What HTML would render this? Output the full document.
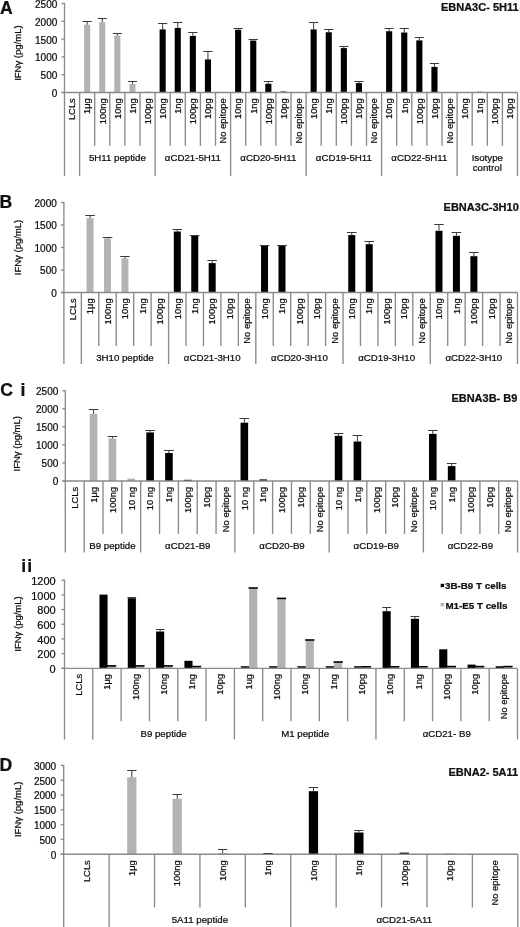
<!DOCTYPE html>
<html><head><meta charset="utf-8"><title>Figure</title>
<style>
html,body{margin:0;padding:0;background:#fff;}
body{width:520px;height:927px;overflow:hidden;}
svg{display:block;will-change:transform;font-family:"Liberation Sans",sans-serif;}
text{fill:#111111;stroke:#000;stroke-width:0.22px;}
</style></head><body>
<svg width="520" height="927" viewBox="0 0 520 927">
<rect width="520" height="927" fill="#fff"/>
<rect x="84.1" y="24.75" width="6.1" height="67.75" fill="#b3b3b3"/>
<path d="M87.15 24.75V21.5" stroke="#3a3a3a" stroke-width="1" fill="none"/>
<path d="M82.55 21.5H91.75" stroke="#3a3a3a" stroke-width="1" fill="none"/>
<rect x="99.2" y="22.1" width="6.1" height="70.4" fill="#b3b3b3"/>
<path d="M102.25 22.1V18.5" stroke="#3a3a3a" stroke-width="1" fill="none"/>
<path d="M97.65 18.5H106.85" stroke="#3a3a3a" stroke-width="1" fill="none"/>
<rect x="114.3" y="35.6" width="6.1" height="56.9" fill="#b3b3b3"/>
<path d="M117.35 35.6V33.5" stroke="#3a3a3a" stroke-width="1" fill="none"/>
<path d="M112.75 33.5H121.95" stroke="#3a3a3a" stroke-width="1" fill="none"/>
<rect x="129.4" y="84" width="6.1" height="8.5" fill="#b3b3b3"/>
<path d="M132.45 84V81.5" stroke="#3a3a3a" stroke-width="1" fill="none"/>
<path d="M127.85 81.5H137.05" stroke="#3a3a3a" stroke-width="1" fill="none"/>
<rect x="144.5" y="91.6" width="6.1" height="0.9" fill="#b3b3b3"/>
<rect x="159.6" y="29.4" width="6.1" height="63.1" fill="#000000"/>
<path d="M162.65 29.4V23.5" stroke="#3a3a3a" stroke-width="1" fill="none"/>
<path d="M158.05 23.5H167.25" stroke="#3a3a3a" stroke-width="1" fill="none"/>
<rect x="174.7" y="27.9" width="6.1" height="64.6" fill="#000000"/>
<path d="M177.75 27.9V22.5" stroke="#3a3a3a" stroke-width="1" fill="none"/>
<path d="M173.15 22.5H182.35" stroke="#3a3a3a" stroke-width="1" fill="none"/>
<rect x="189.8" y="35.9" width="6.1" height="56.6" fill="#000000"/>
<path d="M192.85 35.9V32.5" stroke="#3a3a3a" stroke-width="1" fill="none"/>
<path d="M188.25 32.5H197.45" stroke="#3a3a3a" stroke-width="1" fill="none"/>
<rect x="204.9" y="59.4" width="6.1" height="33.1" fill="#000000"/>
<path d="M207.95 59.4V51.5" stroke="#3a3a3a" stroke-width="1" fill="none"/>
<path d="M203.35 51.5H212.55" stroke="#3a3a3a" stroke-width="1" fill="none"/>
<rect x="235.1" y="29.75" width="6.1" height="62.75" fill="#000000"/>
<path d="M238.15 29.75V28.5" stroke="#3a3a3a" stroke-width="1" fill="none"/>
<path d="M233.55 28.5H242.75" stroke="#3a3a3a" stroke-width="1" fill="none"/>
<rect x="250.2" y="40.6" width="6.1" height="51.9" fill="#000000"/>
<path d="M253.25 40.6V39.5" stroke="#3a3a3a" stroke-width="1" fill="none"/>
<path d="M248.65 39.5H257.85" stroke="#3a3a3a" stroke-width="1" fill="none"/>
<rect x="265.3" y="83.75" width="6.1" height="8.75" fill="#000000"/>
<path d="M268.35 83.75V81.5" stroke="#3a3a3a" stroke-width="1" fill="none"/>
<path d="M263.75 81.5H272.95" stroke="#3a3a3a" stroke-width="1" fill="none"/>
<rect x="280.4" y="91.5" width="6.1" height="1" fill="#000000"/>
<rect x="310.6" y="29.4" width="6.1" height="63.1" fill="#000000"/>
<path d="M313.65 29.4V22.5" stroke="#3a3a3a" stroke-width="1" fill="none"/>
<path d="M309.05 22.5H318.25" stroke="#3a3a3a" stroke-width="1" fill="none"/>
<rect x="325.7" y="32.25" width="6.1" height="60.25" fill="#000000"/>
<path d="M328.75 32.25V29.5" stroke="#3a3a3a" stroke-width="1" fill="none"/>
<path d="M324.15 29.5H333.35" stroke="#3a3a3a" stroke-width="1" fill="none"/>
<rect x="340.8" y="48.1" width="6.1" height="44.4" fill="#000000"/>
<path d="M343.85 48.1V46.5" stroke="#3a3a3a" stroke-width="1" fill="none"/>
<path d="M339.25 46.5H348.45" stroke="#3a3a3a" stroke-width="1" fill="none"/>
<rect x="355.9" y="83.1" width="6.1" height="9.4" fill="#000000"/>
<path d="M358.95 83.1V81.5" stroke="#3a3a3a" stroke-width="1" fill="none"/>
<path d="M354.35 81.5H363.55" stroke="#3a3a3a" stroke-width="1" fill="none"/>
<rect x="386.1" y="31.25" width="6.1" height="61.25" fill="#000000"/>
<path d="M389.15 31.25V28.5" stroke="#3a3a3a" stroke-width="1" fill="none"/>
<path d="M384.55 28.5H393.75" stroke="#3a3a3a" stroke-width="1" fill="none"/>
<rect x="401.2" y="32.5" width="6.1" height="60" fill="#000000"/>
<path d="M404.25 32.5V28.5" stroke="#3a3a3a" stroke-width="1" fill="none"/>
<path d="M399.65 28.5H408.85" stroke="#3a3a3a" stroke-width="1" fill="none"/>
<rect x="416.3" y="40.4" width="6.1" height="52.1" fill="#000000"/>
<path d="M419.35 40.4V37.5" stroke="#3a3a3a" stroke-width="1" fill="none"/>
<path d="M414.75 37.5H423.95" stroke="#3a3a3a" stroke-width="1" fill="none"/>
<rect x="431.4" y="66.9" width="6.1" height="25.6" fill="#000000"/>
<path d="M434.45 66.9V63.5" stroke="#3a3a3a" stroke-width="1" fill="none"/>
<path d="M429.85 63.5H439.05" stroke="#3a3a3a" stroke-width="1" fill="none"/>
<rect x="476.7" y="91.8" width="6.1" height="0.7" fill="#000000"/>
<path d="M64.5 3V176" stroke="#8a8a8a" stroke-width="1.35"/>
<path d="M61.5 92.5H64.5" stroke="#8a8a8a" stroke-width="1.35"/>
<text x="57.3" y="96.98" text-anchor="end" font-size="10.0">0</text>
<path d="M61.5 74.7H64.5" stroke="#8a8a8a" stroke-width="1.35"/>
<text x="57.3" y="79.18" text-anchor="end" font-size="10.0">500</text>
<path d="M61.5 56.9H64.5" stroke="#8a8a8a" stroke-width="1.35"/>
<text x="57.3" y="61.38" text-anchor="end" font-size="10.0">1000</text>
<path d="M61.5 39.1H64.5" stroke="#8a8a8a" stroke-width="1.35"/>
<text x="57.3" y="43.58" text-anchor="end" font-size="10.0">1500</text>
<path d="M61.5 21.3H64.5" stroke="#8a8a8a" stroke-width="1.35"/>
<text x="57.3" y="25.78" text-anchor="end" font-size="10.0">2000</text>
<path d="M61.5 3.5H64.5" stroke="#8a8a8a" stroke-width="1.35"/>
<text x="57.3" y="7.98" text-anchor="end" font-size="10.0">2500</text>
<path d="M61.5 92.5H517.5" stroke="#8a8a8a" stroke-width="1.35"/>
<path d="M79.6 92.5V176" stroke="#8a8a8a" stroke-width="1.35"/>
<path d="M94.7 92.5V145.8" stroke="#8a8a8a" stroke-width="1.35"/>
<path d="M109.8 92.5V145.8" stroke="#8a8a8a" stroke-width="1.35"/>
<path d="M124.9 92.5V145.8" stroke="#8a8a8a" stroke-width="1.35"/>
<path d="M140 92.5V145.8" stroke="#8a8a8a" stroke-width="1.35"/>
<path d="M155.1 92.5V176" stroke="#8a8a8a" stroke-width="1.35"/>
<path d="M170.2 92.5V145.8" stroke="#8a8a8a" stroke-width="1.35"/>
<path d="M185.3 92.5V145.8" stroke="#8a8a8a" stroke-width="1.35"/>
<path d="M200.4 92.5V145.8" stroke="#8a8a8a" stroke-width="1.35"/>
<path d="M215.5 92.5V145.8" stroke="#8a8a8a" stroke-width="1.35"/>
<path d="M230.6 92.5V176" stroke="#8a8a8a" stroke-width="1.35"/>
<path d="M245.7 92.5V145.8" stroke="#8a8a8a" stroke-width="1.35"/>
<path d="M260.8 92.5V145.8" stroke="#8a8a8a" stroke-width="1.35"/>
<path d="M275.9 92.5V145.8" stroke="#8a8a8a" stroke-width="1.35"/>
<path d="M291 92.5V145.8" stroke="#8a8a8a" stroke-width="1.35"/>
<path d="M306.1 92.5V176" stroke="#8a8a8a" stroke-width="1.35"/>
<path d="M321.2 92.5V145.8" stroke="#8a8a8a" stroke-width="1.35"/>
<path d="M336.3 92.5V145.8" stroke="#8a8a8a" stroke-width="1.35"/>
<path d="M351.4 92.5V145.8" stroke="#8a8a8a" stroke-width="1.35"/>
<path d="M366.5 92.5V145.8" stroke="#8a8a8a" stroke-width="1.35"/>
<path d="M381.6 92.5V176" stroke="#8a8a8a" stroke-width="1.35"/>
<path d="M396.7 92.5V145.8" stroke="#8a8a8a" stroke-width="1.35"/>
<path d="M411.8 92.5V145.8" stroke="#8a8a8a" stroke-width="1.35"/>
<path d="M426.9 92.5V145.8" stroke="#8a8a8a" stroke-width="1.35"/>
<path d="M442 92.5V145.8" stroke="#8a8a8a" stroke-width="1.35"/>
<path d="M457.1 92.5V176" stroke="#8a8a8a" stroke-width="1.35"/>
<path d="M472.2 92.5V145.8" stroke="#8a8a8a" stroke-width="1.35"/>
<path d="M487.3 92.5V145.8" stroke="#8a8a8a" stroke-width="1.35"/>
<path d="M502.4 92.5V145.8" stroke="#8a8a8a" stroke-width="1.35"/>
<path d="M517.5 92.5V176" stroke="#8a8a8a" stroke-width="1.35"/>
<text transform="translate(75.31 98.2) rotate(-90)" text-anchor="end" font-size="9.4">LCLs</text>
<text transform="translate(90.41 98.2) rotate(-90)" text-anchor="end" font-size="9.4">1&#956;g</text>
<text transform="translate(105.51 98.2) rotate(-90)" text-anchor="end" font-size="9.4">100ng</text>
<text transform="translate(120.61 98.2) rotate(-90)" text-anchor="end" font-size="9.4">10ng</text>
<text transform="translate(135.71 98.2) rotate(-90)" text-anchor="end" font-size="9.4">1ng</text>
<text transform="translate(150.81 98.2) rotate(-90)" text-anchor="end" font-size="9.4">100pg</text>
<text transform="translate(165.91 98.2) rotate(-90)" text-anchor="end" font-size="9.4">10ng</text>
<text transform="translate(181.01 98.2) rotate(-90)" text-anchor="end" font-size="9.4">1ng</text>
<text transform="translate(196.11 98.2) rotate(-90)" text-anchor="end" font-size="9.4">100pg</text>
<text transform="translate(211.21 98.2) rotate(-90)" text-anchor="end" font-size="9.4">10pg</text>
<text transform="translate(226.31 98.2) rotate(-90)" text-anchor="end" font-size="9.4">No epitope</text>
<text transform="translate(241.41 98.2) rotate(-90)" text-anchor="end" font-size="9.4">10ng</text>
<text transform="translate(256.51 98.2) rotate(-90)" text-anchor="end" font-size="9.4">1ng</text>
<text transform="translate(271.61 98.2) rotate(-90)" text-anchor="end" font-size="9.4">100pg</text>
<text transform="translate(286.71 98.2) rotate(-90)" text-anchor="end" font-size="9.4">10pg</text>
<text transform="translate(301.81 98.2) rotate(-90)" text-anchor="end" font-size="9.4">No epitope</text>
<text transform="translate(316.91 98.2) rotate(-90)" text-anchor="end" font-size="9.4">10ng</text>
<text transform="translate(332.01 98.2) rotate(-90)" text-anchor="end" font-size="9.4">1ng</text>
<text transform="translate(347.11 98.2) rotate(-90)" text-anchor="end" font-size="9.4">100pg</text>
<text transform="translate(362.21 98.2) rotate(-90)" text-anchor="end" font-size="9.4">10pg</text>
<text transform="translate(377.31 98.2) rotate(-90)" text-anchor="end" font-size="9.4">No epitope</text>
<text transform="translate(392.41 98.2) rotate(-90)" text-anchor="end" font-size="9.4">10ng</text>
<text transform="translate(407.51 98.2) rotate(-90)" text-anchor="end" font-size="9.4">1ng</text>
<text transform="translate(422.61 98.2) rotate(-90)" text-anchor="end" font-size="9.4">100pg</text>
<text transform="translate(437.71 98.2) rotate(-90)" text-anchor="end" font-size="9.4">10pg</text>
<text transform="translate(452.81 98.2) rotate(-90)" text-anchor="end" font-size="9.4">No epitope</text>
<text transform="translate(467.91 98.2) rotate(-90)" text-anchor="end" font-size="9.4">10ng</text>
<text transform="translate(483.01 98.2) rotate(-90)" text-anchor="end" font-size="9.4">1ng</text>
<text transform="translate(498.11 98.2) rotate(-90)" text-anchor="end" font-size="9.4">100pg</text>
<text transform="translate(513.21 98.2) rotate(-90)" text-anchor="end" font-size="9.4">10pg</text>
<text x="117.35" y="160.7" text-anchor="middle" font-size="9.7">5H11 peptide</text>
<text x="192.85" y="160.7" text-anchor="middle" font-size="9.7">&#945;CD21-5H11</text>
<text x="268.35" y="160.7" text-anchor="middle" font-size="9.7">&#945;CD20-5H11</text>
<text x="343.85" y="160.7" text-anchor="middle" font-size="9.7">&#945;CD19-5H11</text>
<text x="419.35" y="160.7" text-anchor="middle" font-size="9.7">&#945;CD22-5H11</text>
<text x="487.3" y="160.7" text-anchor="middle" font-size="9.7">Isotype</text>
<text x="487.3" y="171.3" text-anchor="middle" font-size="9.7">control</text>
<text transform="translate(20.8 53.1) rotate(-90)" text-anchor="middle" font-size="9.5">IFN&#947; (pg/mL)</text>
<rect x="86.57" y="218.2" width="7" height="74.3" fill="#b3b3b3"/>
<path d="M90.07 218.2V215.5" stroke="#3a3a3a" stroke-width="1" fill="none"/>
<path d="M85.27 215.5H94.87" stroke="#3a3a3a" stroke-width="1" fill="none"/>
<rect x="104.02" y="238.5" width="7" height="54" fill="#b3b3b3"/>
<path d="M107.52 238.5V237.5" stroke="#3a3a3a" stroke-width="1" fill="none"/>
<path d="M102.72 237.5H112.32" stroke="#3a3a3a" stroke-width="1" fill="none"/>
<rect x="121.46" y="258.5" width="7" height="34" fill="#b3b3b3"/>
<path d="M124.96 258.5V256.5" stroke="#3a3a3a" stroke-width="1" fill="none"/>
<path d="M120.16 256.5H129.76" stroke="#3a3a3a" stroke-width="1" fill="none"/>
<rect x="173.8" y="231.5" width="7" height="61" fill="#000000"/>
<path d="M177.3 231.5V229.5" stroke="#3a3a3a" stroke-width="1" fill="none"/>
<path d="M172.5 229.5H182.1" stroke="#3a3a3a" stroke-width="1" fill="none"/>
<rect x="191.25" y="235.4" width="7" height="57.1" fill="#000000"/>
<path d="M194.75 235.4V235.5" stroke="#3a3a3a" stroke-width="1" fill="none"/>
<path d="M189.95 235.5H199.55" stroke="#3a3a3a" stroke-width="1" fill="none"/>
<rect x="208.69" y="263.1" width="7" height="29.4" fill="#000000"/>
<path d="M212.19 263.1V260.5" stroke="#3a3a3a" stroke-width="1" fill="none"/>
<path d="M207.39 260.5H216.99" stroke="#3a3a3a" stroke-width="1" fill="none"/>
<rect x="261.03" y="245.7" width="7" height="46.8" fill="#000000"/>
<path d="M264.53 245.7V245.5" stroke="#3a3a3a" stroke-width="1" fill="none"/>
<path d="M259.73 245.5H269.33" stroke="#3a3a3a" stroke-width="1" fill="none"/>
<rect x="278.48" y="245.7" width="7" height="46.8" fill="#000000"/>
<path d="M281.98 245.7V245.5" stroke="#3a3a3a" stroke-width="1" fill="none"/>
<path d="M277.18 245.5H286.78" stroke="#3a3a3a" stroke-width="1" fill="none"/>
<rect x="348.26" y="235.1" width="7" height="57.4" fill="#000000"/>
<path d="M351.76 235.1V232.5" stroke="#3a3a3a" stroke-width="1" fill="none"/>
<path d="M346.96 232.5H356.56" stroke="#3a3a3a" stroke-width="1" fill="none"/>
<rect x="365.71" y="244.2" width="7" height="48.3" fill="#000000"/>
<path d="M369.21 244.2V241.5" stroke="#3a3a3a" stroke-width="1" fill="none"/>
<path d="M364.41 241.5H374.01" stroke="#3a3a3a" stroke-width="1" fill="none"/>
<rect x="435.49" y="230.8" width="7" height="61.7" fill="#000000"/>
<path d="M438.99 230.8V224.5" stroke="#3a3a3a" stroke-width="1" fill="none"/>
<path d="M434.19 224.5H443.79" stroke="#3a3a3a" stroke-width="1" fill="none"/>
<rect x="452.94" y="235.8" width="7" height="56.7" fill="#000000"/>
<path d="M456.44 235.8V232.5" stroke="#3a3a3a" stroke-width="1" fill="none"/>
<path d="M451.64 232.5H461.24" stroke="#3a3a3a" stroke-width="1" fill="none"/>
<rect x="470.38" y="256.2" width="7" height="36.3" fill="#000000"/>
<path d="M473.88 256.2V252.5" stroke="#3a3a3a" stroke-width="1" fill="none"/>
<path d="M469.08 252.5H478.68" stroke="#3a3a3a" stroke-width="1" fill="none"/>
<path d="M63.9 202V364" stroke="#8a8a8a" stroke-width="1.35"/>
<path d="M60.9 292.5H63.9" stroke="#8a8a8a" stroke-width="1.35"/>
<text x="56.8" y="296.98" text-anchor="end" font-size="10.0">0</text>
<path d="M60.9 270H63.9" stroke="#8a8a8a" stroke-width="1.35"/>
<text x="56.8" y="274.48" text-anchor="end" font-size="10.0">500</text>
<path d="M60.9 247.5H63.9" stroke="#8a8a8a" stroke-width="1.35"/>
<text x="56.8" y="251.98" text-anchor="end" font-size="10.0">1000</text>
<path d="M60.9 225H63.9" stroke="#8a8a8a" stroke-width="1.35"/>
<text x="56.8" y="229.48" text-anchor="end" font-size="10.0">1500</text>
<path d="M60.9 202.5H63.9" stroke="#8a8a8a" stroke-width="1.35"/>
<text x="56.8" y="206.98" text-anchor="end" font-size="10.0">2000</text>
<path d="M60.9 292.5H517.5" stroke="#8a8a8a" stroke-width="1.35"/>
<path d="M81.35 292.5V364" stroke="#8a8a8a" stroke-width="1.35"/>
<path d="M98.79 292.5V346" stroke="#8a8a8a" stroke-width="1.35"/>
<path d="M116.24 292.5V346" stroke="#8a8a8a" stroke-width="1.35"/>
<path d="M133.68 292.5V346" stroke="#8a8a8a" stroke-width="1.35"/>
<path d="M151.13 292.5V346" stroke="#8a8a8a" stroke-width="1.35"/>
<path d="M168.58 292.5V364" stroke="#8a8a8a" stroke-width="1.35"/>
<path d="M186.02 292.5V346" stroke="#8a8a8a" stroke-width="1.35"/>
<path d="M203.47 292.5V346" stroke="#8a8a8a" stroke-width="1.35"/>
<path d="M220.92 292.5V346" stroke="#8a8a8a" stroke-width="1.35"/>
<path d="M238.36 292.5V346" stroke="#8a8a8a" stroke-width="1.35"/>
<path d="M255.81 292.5V364" stroke="#8a8a8a" stroke-width="1.35"/>
<path d="M273.25 292.5V346" stroke="#8a8a8a" stroke-width="1.35"/>
<path d="M290.7 292.5V346" stroke="#8a8a8a" stroke-width="1.35"/>
<path d="M308.15 292.5V346" stroke="#8a8a8a" stroke-width="1.35"/>
<path d="M325.59 292.5V346" stroke="#8a8a8a" stroke-width="1.35"/>
<path d="M343.04 292.5V364" stroke="#8a8a8a" stroke-width="1.35"/>
<path d="M360.48 292.5V346" stroke="#8a8a8a" stroke-width="1.35"/>
<path d="M377.93 292.5V346" stroke="#8a8a8a" stroke-width="1.35"/>
<path d="M395.38 292.5V346" stroke="#8a8a8a" stroke-width="1.35"/>
<path d="M412.82 292.5V346" stroke="#8a8a8a" stroke-width="1.35"/>
<path d="M430.27 292.5V364" stroke="#8a8a8a" stroke-width="1.35"/>
<path d="M447.72 292.5V346" stroke="#8a8a8a" stroke-width="1.35"/>
<path d="M465.16 292.5V346" stroke="#8a8a8a" stroke-width="1.35"/>
<path d="M482.61 292.5V346" stroke="#8a8a8a" stroke-width="1.35"/>
<path d="M500.05 292.5V346" stroke="#8a8a8a" stroke-width="1.35"/>
<path d="M517.5 292.5V364" stroke="#8a8a8a" stroke-width="1.35"/>
<text transform="translate(75.88 298.3) rotate(-90)" text-anchor="end" font-size="9.4">LCLs</text>
<text transform="translate(93.33 298.3) rotate(-90)" text-anchor="end" font-size="9.4">1&#956;g</text>
<text transform="translate(110.77 298.3) rotate(-90)" text-anchor="end" font-size="9.4">100ng</text>
<text transform="translate(128.22 298.3) rotate(-90)" text-anchor="end" font-size="9.4">10ng</text>
<text transform="translate(145.66 298.3) rotate(-90)" text-anchor="end" font-size="9.4">1ng</text>
<text transform="translate(163.11 298.3) rotate(-90)" text-anchor="end" font-size="9.4">100pg</text>
<text transform="translate(180.56 298.3) rotate(-90)" text-anchor="end" font-size="9.4">10ng</text>
<text transform="translate(198 298.3) rotate(-90)" text-anchor="end" font-size="9.4">1ng</text>
<text transform="translate(215.45 298.3) rotate(-90)" text-anchor="end" font-size="9.4">100pg</text>
<text transform="translate(232.9 298.3) rotate(-90)" text-anchor="end" font-size="9.4">10pg</text>
<text transform="translate(250.34 298.3) rotate(-90)" text-anchor="end" font-size="9.4">No epitope</text>
<text transform="translate(267.79 298.3) rotate(-90)" text-anchor="end" font-size="9.4">10ng</text>
<text transform="translate(285.23 298.3) rotate(-90)" text-anchor="end" font-size="9.4">1ng</text>
<text transform="translate(302.68 298.3) rotate(-90)" text-anchor="end" font-size="9.4">100pg</text>
<text transform="translate(320.13 298.3) rotate(-90)" text-anchor="end" font-size="9.4">10pg</text>
<text transform="translate(337.57 298.3) rotate(-90)" text-anchor="end" font-size="9.4">No epitope</text>
<text transform="translate(355.02 298.3) rotate(-90)" text-anchor="end" font-size="9.4">10ng</text>
<text transform="translate(372.46 298.3) rotate(-90)" text-anchor="end" font-size="9.4">1ng</text>
<text transform="translate(389.91 298.3) rotate(-90)" text-anchor="end" font-size="9.4">100pg</text>
<text transform="translate(407.36 298.3) rotate(-90)" text-anchor="end" font-size="9.4">10pg</text>
<text transform="translate(424.8 298.3) rotate(-90)" text-anchor="end" font-size="9.4">No epitope</text>
<text transform="translate(442.25 298.3) rotate(-90)" text-anchor="end" font-size="9.4">10ng</text>
<text transform="translate(459.7 298.3) rotate(-90)" text-anchor="end" font-size="9.4">1ng</text>
<text transform="translate(477.14 298.3) rotate(-90)" text-anchor="end" font-size="9.4">100pg</text>
<text transform="translate(494.59 298.3) rotate(-90)" text-anchor="end" font-size="9.4">10pg</text>
<text transform="translate(512.03 298.3) rotate(-90)" text-anchor="end" font-size="9.4">No epitope</text>
<text x="124.96" y="361.1" text-anchor="middle" font-size="9.7">3H10 peptide</text>
<text x="212.19" y="361.1" text-anchor="middle" font-size="9.7">&#945;CD21-3H10</text>
<text x="299.42" y="361.1" text-anchor="middle" font-size="9.7">&#945;CD20-3H10</text>
<text x="386.65" y="361.1" text-anchor="middle" font-size="9.7">&#945;CD19-3H10</text>
<text x="473.88" y="361.1" text-anchor="middle" font-size="9.7">&#945;CD22-3H10</text>
<text transform="translate(20.8 247.5) rotate(-90)" text-anchor="middle" font-size="9.5">IFN&#947; (pg/mL)</text>
<rect x="89.77" y="413.8" width="7.6" height="67.2" fill="#b3b3b3"/>
<path d="M93.57 413.8V409.5" stroke="#3a3a3a" stroke-width="1" fill="none"/>
<path d="M88.77 409.5H98.37" stroke="#3a3a3a" stroke-width="1" fill="none"/>
<rect x="108.61" y="438.5" width="7.6" height="42.5" fill="#b3b3b3"/>
<path d="M112.41 438.5V436.5" stroke="#3a3a3a" stroke-width="1" fill="none"/>
<path d="M107.61 436.5H117.21" stroke="#3a3a3a" stroke-width="1" fill="none"/>
<rect x="127.46" y="478.6" width="7.6" height="2.4" fill="#b3b3b3"/>
<rect x="146.31" y="432.4" width="7.6" height="48.6" fill="#000000"/>
<path d="M150.11 432.4V430.5" stroke="#3a3a3a" stroke-width="1" fill="none"/>
<path d="M145.31 430.5H154.91" stroke="#3a3a3a" stroke-width="1" fill="none"/>
<rect x="165.15" y="453" width="7.6" height="28" fill="#000000"/>
<path d="M168.95 453V450.5" stroke="#3a3a3a" stroke-width="1" fill="none"/>
<path d="M164.15 450.5H173.75" stroke="#3a3a3a" stroke-width="1" fill="none"/>
<rect x="184" y="479.8" width="7.6" height="1.2" fill="#000000"/>
<rect x="240.54" y="422.7" width="7.6" height="58.3" fill="#000000"/>
<path d="M244.34 422.7V418.5" stroke="#3a3a3a" stroke-width="1" fill="none"/>
<path d="M239.54 418.5H249.14" stroke="#3a3a3a" stroke-width="1" fill="none"/>
<rect x="259.38" y="479.4" width="7.6" height="1.6" fill="#000000"/>
<rect x="334.76" y="435.8" width="7.6" height="45.2" fill="#000000"/>
<path d="M338.56 435.8V433.5" stroke="#3a3a3a" stroke-width="1" fill="none"/>
<path d="M333.76 433.5H343.36" stroke="#3a3a3a" stroke-width="1" fill="none"/>
<rect x="353.61" y="441.5" width="7.6" height="39.5" fill="#000000"/>
<path d="M357.41 441.5V435.5" stroke="#3a3a3a" stroke-width="1" fill="none"/>
<path d="M352.61 435.5H362.21" stroke="#3a3a3a" stroke-width="1" fill="none"/>
<rect x="428.99" y="433.9" width="7.6" height="47.1" fill="#000000"/>
<path d="M432.79 433.9V430.5" stroke="#3a3a3a" stroke-width="1" fill="none"/>
<path d="M427.99 430.5H437.59" stroke="#3a3a3a" stroke-width="1" fill="none"/>
<rect x="447.84" y="466.1" width="7.6" height="14.9" fill="#000000"/>
<path d="M451.64 466.1V463.5" stroke="#3a3a3a" stroke-width="1" fill="none"/>
<path d="M446.84 463.5H456.44" stroke="#3a3a3a" stroke-width="1" fill="none"/>
<path d="M65.3 390.2V552.5" stroke="#8a8a8a" stroke-width="1.35"/>
<path d="M62.3 481H65.3" stroke="#8a8a8a" stroke-width="1.35"/>
<text x="58.3" y="485.48" text-anchor="end" font-size="10.0">0</text>
<path d="M62.3 462.94H65.3" stroke="#8a8a8a" stroke-width="1.35"/>
<text x="58.3" y="467.42" text-anchor="end" font-size="10.0">500</text>
<path d="M62.3 444.88H65.3" stroke="#8a8a8a" stroke-width="1.35"/>
<text x="58.3" y="449.36" text-anchor="end" font-size="10.0">1000</text>
<path d="M62.3 426.82H65.3" stroke="#8a8a8a" stroke-width="1.35"/>
<text x="58.3" y="431.3" text-anchor="end" font-size="10.0">1500</text>
<path d="M62.3 408.76H65.3" stroke="#8a8a8a" stroke-width="1.35"/>
<text x="58.3" y="413.24" text-anchor="end" font-size="10.0">2000</text>
<path d="M62.3 390.7H65.3" stroke="#8a8a8a" stroke-width="1.35"/>
<text x="58.3" y="395.18" text-anchor="end" font-size="10.0">2500</text>
<path d="M62.3 481H517.6" stroke="#8a8a8a" stroke-width="1.35"/>
<path d="M84.15 481V552.5" stroke="#8a8a8a" stroke-width="1.35"/>
<path d="M102.99 481V534" stroke="#8a8a8a" stroke-width="1.35"/>
<path d="M121.84 481V534" stroke="#8a8a8a" stroke-width="1.35"/>
<path d="M140.68 481V552.5" stroke="#8a8a8a" stroke-width="1.35"/>
<path d="M159.53 481V534" stroke="#8a8a8a" stroke-width="1.35"/>
<path d="M178.38 481V534" stroke="#8a8a8a" stroke-width="1.35"/>
<path d="M197.22 481V534" stroke="#8a8a8a" stroke-width="1.35"/>
<path d="M216.07 481V534" stroke="#8a8a8a" stroke-width="1.35"/>
<path d="M234.91 481V552.5" stroke="#8a8a8a" stroke-width="1.35"/>
<path d="M253.76 481V534" stroke="#8a8a8a" stroke-width="1.35"/>
<path d="M272.6 481V534" stroke="#8a8a8a" stroke-width="1.35"/>
<path d="M291.45 481V534" stroke="#8a8a8a" stroke-width="1.35"/>
<path d="M310.3 481V534" stroke="#8a8a8a" stroke-width="1.35"/>
<path d="M329.14 481V552.5" stroke="#8a8a8a" stroke-width="1.35"/>
<path d="M347.99 481V534" stroke="#8a8a8a" stroke-width="1.35"/>
<path d="M366.83 481V534" stroke="#8a8a8a" stroke-width="1.35"/>
<path d="M385.68 481V534" stroke="#8a8a8a" stroke-width="1.35"/>
<path d="M404.53 481V534" stroke="#8a8a8a" stroke-width="1.35"/>
<path d="M423.37 481V552.5" stroke="#8a8a8a" stroke-width="1.35"/>
<path d="M442.22 481V534" stroke="#8a8a8a" stroke-width="1.35"/>
<path d="M461.06 481V534" stroke="#8a8a8a" stroke-width="1.35"/>
<path d="M479.91 481V534" stroke="#8a8a8a" stroke-width="1.35"/>
<path d="M498.75 481V534" stroke="#8a8a8a" stroke-width="1.35"/>
<path d="M517.6 481V552.5" stroke="#8a8a8a" stroke-width="1.35"/>
<text transform="translate(77.98 486.8) rotate(-90)" text-anchor="end" font-size="9.4">LCLs</text>
<text transform="translate(96.83 486.8) rotate(-90)" text-anchor="end" font-size="9.4">1&#956;g</text>
<text transform="translate(115.67 486.8) rotate(-90)" text-anchor="end" font-size="9.4">100ng</text>
<text transform="translate(134.52 486.8) rotate(-90)" text-anchor="end" font-size="9.4">10 ng</text>
<text transform="translate(153.36 486.8) rotate(-90)" text-anchor="end" font-size="9.4">10 ng</text>
<text transform="translate(172.21 486.8) rotate(-90)" text-anchor="end" font-size="9.4">1ng</text>
<text transform="translate(191.06 486.8) rotate(-90)" text-anchor="end" font-size="9.4">100pg</text>
<text transform="translate(209.9 486.8) rotate(-90)" text-anchor="end" font-size="9.4">10pg</text>
<text transform="translate(228.75 486.8) rotate(-90)" text-anchor="end" font-size="9.4">No epitope</text>
<text transform="translate(247.59 486.8) rotate(-90)" text-anchor="end" font-size="9.4">10 ng</text>
<text transform="translate(266.44 486.8) rotate(-90)" text-anchor="end" font-size="9.4">1ng</text>
<text transform="translate(285.28 486.8) rotate(-90)" text-anchor="end" font-size="9.4">100pg</text>
<text transform="translate(304.13 486.8) rotate(-90)" text-anchor="end" font-size="9.4">10pg</text>
<text transform="translate(322.98 486.8) rotate(-90)" text-anchor="end" font-size="9.4">No epitope</text>
<text transform="translate(341.82 486.8) rotate(-90)" text-anchor="end" font-size="9.4">10 ng</text>
<text transform="translate(360.67 486.8) rotate(-90)" text-anchor="end" font-size="9.4">1ng</text>
<text transform="translate(379.51 486.8) rotate(-90)" text-anchor="end" font-size="9.4">100pg</text>
<text transform="translate(398.36 486.8) rotate(-90)" text-anchor="end" font-size="9.4">10pg</text>
<text transform="translate(417.21 486.8) rotate(-90)" text-anchor="end" font-size="9.4">No epitope</text>
<text transform="translate(436.05 486.8) rotate(-90)" text-anchor="end" font-size="9.4">10 ng</text>
<text transform="translate(454.9 486.8) rotate(-90)" text-anchor="end" font-size="9.4">1ng</text>
<text transform="translate(473.74 486.8) rotate(-90)" text-anchor="end" font-size="9.4">100pg</text>
<text transform="translate(492.59 486.8) rotate(-90)" text-anchor="end" font-size="9.4">10pg</text>
<text transform="translate(511.43 486.8) rotate(-90)" text-anchor="end" font-size="9.4">No epitope</text>
<text x="112.41" y="549.3" text-anchor="middle" font-size="9.7">B9 peptide</text>
<text x="187.8" y="549.3" text-anchor="middle" font-size="9.7">&#945;CD21-B9</text>
<text x="282.03" y="549.3" text-anchor="middle" font-size="9.7">&#945;CD20-B9</text>
<text x="376.26" y="549.3" text-anchor="middle" font-size="9.7">&#945;CD19-B9</text>
<text x="470.49" y="549.3" text-anchor="middle" font-size="9.7">&#945;CD22-B9</text>
<text transform="translate(20.3 443.75) rotate(-90)" text-anchor="middle" font-size="9.5">IFN&#947; (pg/mL)</text>
<rect x="99.47" y="594.6" width="8.1" height="73.7" fill="#000000"/>
<rect x="107.57" y="666.4" width="8.1" height="1.9" fill="#b3b3b3"/>
<path d="M111.62 666.4V665.9" stroke="#000" stroke-width="1" fill="none"/>
<path d="M106.97 665.9H116.27" stroke="#000" stroke-width="1.6" fill="none"/>
<rect x="127.78" y="598.2" width="8.1" height="70.1" fill="#000000"/>
<path d="M131.83 598.2V597.5" stroke="#3a3a3a" stroke-width="1" fill="none"/>
<path d="M127.48 597.5H136.18" stroke="#3a3a3a" stroke-width="1" fill="none"/>
<rect x="135.88" y="666.4" width="8.1" height="1.9" fill="#b3b3b3"/>
<path d="M139.93 666.4V665.9" stroke="#000" stroke-width="1" fill="none"/>
<path d="M135.28 665.9H144.58" stroke="#000" stroke-width="1.6" fill="none"/>
<rect x="156.09" y="631.5" width="8.1" height="36.8" fill="#000000"/>
<path d="M160.14 631.5V629.5" stroke="#3a3a3a" stroke-width="1" fill="none"/>
<path d="M155.79 629.5H164.49" stroke="#3a3a3a" stroke-width="1" fill="none"/>
<rect x="164.19" y="666.4" width="8.1" height="1.9" fill="#b3b3b3"/>
<path d="M168.24 666.4V665.9" stroke="#000" stroke-width="1" fill="none"/>
<path d="M163.59 665.9H172.89" stroke="#000" stroke-width="1.6" fill="none"/>
<rect x="184.41" y="660.8" width="8.1" height="7.5" fill="#000000"/>
<rect x="192.51" y="667" width="8.1" height="1.3" fill="#b3b3b3"/>
<path d="M196.56 667V666.6" stroke="#000" stroke-width="1" fill="none"/>
<path d="M191.91 666.6H201.21" stroke="#000" stroke-width="1.6" fill="none"/>
<rect x="241.03" y="667.2" width="8.1" height="1.1" fill="#000000"/>
<path d="M245.08 667.2V666.5" stroke="#3a3a3a" stroke-width="1" fill="none"/>
<path d="M240.73 666.5H249.43" stroke="#3a3a3a" stroke-width="1" fill="none"/>
<rect x="249.13" y="588.5" width="8.1" height="79.8" fill="#b3b3b3"/>
<path d="M253.18 588.5V588" stroke="#000" stroke-width="1" fill="none"/>
<path d="M248.53 588H257.83" stroke="#000" stroke-width="1.6" fill="none"/>
<rect x="269.34" y="667.2" width="8.1" height="1.1" fill="#000000"/>
<path d="M273.39 667.2V666.5" stroke="#3a3a3a" stroke-width="1" fill="none"/>
<path d="M269.04 666.5H277.74" stroke="#3a3a3a" stroke-width="1" fill="none"/>
<rect x="277.44" y="598.8" width="8.1" height="69.5" fill="#b3b3b3"/>
<path d="M281.49 598.8V598.4" stroke="#000" stroke-width="1" fill="none"/>
<path d="M276.84 598.4H286.14" stroke="#000" stroke-width="1.6" fill="none"/>
<rect x="297.66" y="667.2" width="8.1" height="1.1" fill="#000000"/>
<path d="M301.71 667.2V666.5" stroke="#3a3a3a" stroke-width="1" fill="none"/>
<path d="M297.36 666.5H306.06" stroke="#3a3a3a" stroke-width="1" fill="none"/>
<rect x="305.76" y="640.4" width="8.1" height="27.9" fill="#b3b3b3"/>
<path d="M309.81 640.4V640" stroke="#000" stroke-width="1" fill="none"/>
<path d="M305.16 640H314.46" stroke="#000" stroke-width="1.6" fill="none"/>
<rect x="325.97" y="667.2" width="8.1" height="1.1" fill="#000000"/>
<path d="M330.02 667.2V666.5" stroke="#3a3a3a" stroke-width="1" fill="none"/>
<path d="M325.67 666.5H334.37" stroke="#3a3a3a" stroke-width="1" fill="none"/>
<rect x="334.07" y="662.4" width="8.1" height="5.9" fill="#b3b3b3"/>
<path d="M338.12 662.4V662" stroke="#000" stroke-width="1" fill="none"/>
<path d="M333.47 662H342.77" stroke="#000" stroke-width="1.6" fill="none"/>
<rect x="354.28" y="667.2" width="8.1" height="1.1" fill="#000000"/>
<path d="M358.33 667.2V666.5" stroke="#3a3a3a" stroke-width="1" fill="none"/>
<path d="M353.98 666.5H362.68" stroke="#3a3a3a" stroke-width="1" fill="none"/>
<rect x="362.38" y="667.2" width="8.1" height="1.1" fill="#b3b3b3"/>
<path d="M366.43 667.2V666.8" stroke="#000" stroke-width="1" fill="none"/>
<path d="M361.78 666.8H371.08" stroke="#000" stroke-width="1.6" fill="none"/>
<rect x="382.59" y="611.2" width="8.1" height="57.1" fill="#000000"/>
<path d="M386.64 611.2V607.5" stroke="#3a3a3a" stroke-width="1" fill="none"/>
<path d="M382.29 607.5H390.99" stroke="#3a3a3a" stroke-width="1" fill="none"/>
<rect x="390.69" y="667.2" width="8.1" height="1.1" fill="#b3b3b3"/>
<path d="M394.74 667.2V666.8" stroke="#000" stroke-width="1" fill="none"/>
<path d="M390.09 666.8H399.39" stroke="#000" stroke-width="1.6" fill="none"/>
<rect x="410.91" y="618.8" width="8.1" height="49.5" fill="#000000"/>
<path d="M414.96 618.8V616.5" stroke="#3a3a3a" stroke-width="1" fill="none"/>
<path d="M410.61 616.5H419.31" stroke="#3a3a3a" stroke-width="1" fill="none"/>
<rect x="419.01" y="667.2" width="8.1" height="1.1" fill="#b3b3b3"/>
<path d="M423.06 667.2V666.8" stroke="#000" stroke-width="1" fill="none"/>
<path d="M418.41 666.8H427.71" stroke="#000" stroke-width="1.6" fill="none"/>
<rect x="439.22" y="649.3" width="8.1" height="19" fill="#000000"/>
<rect x="447.32" y="667" width="8.1" height="1.3" fill="#b3b3b3"/>
<path d="M451.37 667V666.6" stroke="#000" stroke-width="1" fill="none"/>
<path d="M446.72 666.6H456.02" stroke="#000" stroke-width="1.6" fill="none"/>
<rect x="467.53" y="664.6" width="8.1" height="3.7" fill="#000000"/>
<rect x="475.63" y="667" width="8.1" height="1.3" fill="#b3b3b3"/>
<path d="M479.68 667V666.6" stroke="#000" stroke-width="1" fill="none"/>
<path d="M475.03 666.6H484.33" stroke="#000" stroke-width="1.6" fill="none"/>
<rect x="495.84" y="667" width="8.1" height="1.3" fill="#000000"/>
<path d="M499.89 667V666.5" stroke="#3a3a3a" stroke-width="1" fill="none"/>
<path d="M495.54 666.5H504.24" stroke="#3a3a3a" stroke-width="1" fill="none"/>
<rect x="503.94" y="667" width="8.1" height="1.3" fill="#b3b3b3"/>
<path d="M507.99 667V666.6" stroke="#000" stroke-width="1" fill="none"/>
<path d="M503.34 666.6H512.64" stroke="#000" stroke-width="1.6" fill="none"/>
<path d="M64.5 579.7V739.5" stroke="#8a8a8a" stroke-width="1.35"/>
<path d="M61.5 668.3H64.5" stroke="#8a8a8a" stroke-width="1.35"/>
<text x="55.7" y="673.04" text-anchor="end" font-size="11.0">0</text>
<path d="M61.5 653.62H64.5" stroke="#8a8a8a" stroke-width="1.35"/>
<text x="55.7" y="658.35" text-anchor="end" font-size="11.0">200</text>
<path d="M61.5 638.93H64.5" stroke="#8a8a8a" stroke-width="1.35"/>
<text x="55.7" y="643.67" text-anchor="end" font-size="11.0">400</text>
<path d="M61.5 624.25H64.5" stroke="#8a8a8a" stroke-width="1.35"/>
<text x="55.7" y="628.99" text-anchor="end" font-size="11.0">600</text>
<path d="M61.5 609.57H64.5" stroke="#8a8a8a" stroke-width="1.35"/>
<text x="55.7" y="614.3" text-anchor="end" font-size="11.0">800</text>
<path d="M61.5 594.88H64.5" stroke="#8a8a8a" stroke-width="1.35"/>
<text x="55.7" y="599.62" text-anchor="end" font-size="11.0">1000</text>
<path d="M61.5 580.2H64.5" stroke="#8a8a8a" stroke-width="1.35"/>
<text x="55.7" y="584.94" text-anchor="end" font-size="11.0">1200</text>
<path d="M61.5 668.3H517.5" stroke="#8a8a8a" stroke-width="1.35"/>
<path d="M92.81 668.3V739.5" stroke="#8a8a8a" stroke-width="1.35"/>
<path d="M121.12 668.3V721.3" stroke="#8a8a8a" stroke-width="1.35"/>
<path d="M149.44 668.3V721.3" stroke="#8a8a8a" stroke-width="1.35"/>
<path d="M177.75 668.3V721.3" stroke="#8a8a8a" stroke-width="1.35"/>
<path d="M206.06 668.3V721.3" stroke="#8a8a8a" stroke-width="1.35"/>
<path d="M234.38 668.3V739.5" stroke="#8a8a8a" stroke-width="1.35"/>
<path d="M262.69 668.3V721.3" stroke="#8a8a8a" stroke-width="1.35"/>
<path d="M291 668.3V721.3" stroke="#8a8a8a" stroke-width="1.35"/>
<path d="M319.31 668.3V721.3" stroke="#8a8a8a" stroke-width="1.35"/>
<path d="M347.62 668.3V721.3" stroke="#8a8a8a" stroke-width="1.35"/>
<path d="M375.94 668.3V739.5" stroke="#8a8a8a" stroke-width="1.35"/>
<path d="M404.25 668.3V721.3" stroke="#8a8a8a" stroke-width="1.35"/>
<path d="M432.56 668.3V721.3" stroke="#8a8a8a" stroke-width="1.35"/>
<path d="M460.88 668.3V721.3" stroke="#8a8a8a" stroke-width="1.35"/>
<path d="M489.19 668.3V721.3" stroke="#8a8a8a" stroke-width="1.35"/>
<path d="M517.5 668.3V739.5" stroke="#8a8a8a" stroke-width="1.35"/>
<text transform="translate(81.91 673.9) rotate(-90)" text-anchor="end" font-size="9.4">LCLs</text>
<text transform="translate(110.23 673.9) rotate(-90)" text-anchor="end" font-size="9.4">1&#956;g</text>
<text transform="translate(138.54 673.9) rotate(-90)" text-anchor="end" font-size="9.4">100ng</text>
<text transform="translate(166.85 673.9) rotate(-90)" text-anchor="end" font-size="9.4">10ng</text>
<text transform="translate(195.16 673.9) rotate(-90)" text-anchor="end" font-size="9.4">1ng</text>
<text transform="translate(223.48 673.9) rotate(-90)" text-anchor="end" font-size="9.4">10pg</text>
<text transform="translate(251.79 673.9) rotate(-90)" text-anchor="end" font-size="9.4">1ug</text>
<text transform="translate(280.1 673.9) rotate(-90)" text-anchor="end" font-size="9.4">100ng</text>
<text transform="translate(308.41 673.9) rotate(-90)" text-anchor="end" font-size="9.4">10ng</text>
<text transform="translate(336.73 673.9) rotate(-90)" text-anchor="end" font-size="9.4">1ng</text>
<text transform="translate(365.04 673.9) rotate(-90)" text-anchor="end" font-size="9.4">10pg</text>
<text transform="translate(393.35 673.9) rotate(-90)" text-anchor="end" font-size="9.4">10ng</text>
<text transform="translate(421.66 673.9) rotate(-90)" text-anchor="end" font-size="9.4">1ng</text>
<text transform="translate(449.98 673.9) rotate(-90)" text-anchor="end" font-size="9.4">100pg</text>
<text transform="translate(478.29 673.9) rotate(-90)" text-anchor="end" font-size="9.4">10pg</text>
<text transform="translate(506.6 673.9) rotate(-90)" text-anchor="end" font-size="9.4">No epitope</text>
<text x="163.59" y="736.6" text-anchor="middle" font-size="9.7">B9 peptide</text>
<text x="305.16" y="736.6" text-anchor="middle" font-size="9.7">M1 peptide</text>
<text x="446.72" y="736.6" text-anchor="middle" font-size="9.7">&#945;CD21- B9</text>
<text transform="translate(20.8 624) rotate(-90)" text-anchor="middle" font-size="9.5">IFN&#947; (pg/mL)</text>
<rect x="127.16" y="777.3" width="9.3" height="76.9" fill="#b3b3b3"/>
<path d="M131.81 777.3V770.5" stroke="#3a3a3a" stroke-width="1" fill="none"/>
<path d="M127.16 770.5H136.47" stroke="#3a3a3a" stroke-width="1" fill="none"/>
<rect x="172.57" y="798.8" width="9.3" height="55.4" fill="#b3b3b3"/>
<path d="M177.22 798.8V794.5" stroke="#3a3a3a" stroke-width="1" fill="none"/>
<path d="M172.57 794.5H181.88" stroke="#3a3a3a" stroke-width="1" fill="none"/>
<rect x="217.98" y="853" width="9.3" height="1.2" fill="#b3b3b3"/>
<path d="M222.63 853V849.5" stroke="#3a3a3a" stroke-width="1" fill="none"/>
<path d="M217.98 849.5H227.28" stroke="#3a3a3a" stroke-width="1" fill="none"/>
<rect x="263.39" y="853" width="9.3" height="1.2" fill="#000000"/>
<rect x="308.81" y="791.2" width="9.3" height="63" fill="#000000"/>
<path d="M313.45 791.2V787.5" stroke="#3a3a3a" stroke-width="1" fill="none"/>
<path d="M308.81 787.5H318.1" stroke="#3a3a3a" stroke-width="1" fill="none"/>
<rect x="354.21" y="832.5" width="9.3" height="21.7" fill="#000000"/>
<path d="M358.86 832.5V830.5" stroke="#3a3a3a" stroke-width="1" fill="none"/>
<path d="M354.21 830.5H363.51" stroke="#3a3a3a" stroke-width="1" fill="none"/>
<rect x="399.62" y="852.6" width="9.3" height="1.6" fill="#000000"/>
<rect x="445.03" y="853.4" width="9.3" height="0.8" fill="#b3b3b3"/>
<path d="M63.7 764.9V930" stroke="#8a8a8a" stroke-width="1.35"/>
<path d="M60.7 854.2H63.7" stroke="#8a8a8a" stroke-width="1.35"/>
<text x="56.2" y="858.68" text-anchor="end" font-size="10.0">0</text>
<path d="M60.7 839.4H63.7" stroke="#8a8a8a" stroke-width="1.35"/>
<text x="56.2" y="843.88" text-anchor="end" font-size="10.0">500</text>
<path d="M60.7 824.6H63.7" stroke="#8a8a8a" stroke-width="1.35"/>
<text x="56.2" y="829.08" text-anchor="end" font-size="10.0">1000</text>
<path d="M60.7 809.8H63.7" stroke="#8a8a8a" stroke-width="1.35"/>
<text x="56.2" y="814.28" text-anchor="end" font-size="10.0">1500</text>
<path d="M60.7 795H63.7" stroke="#8a8a8a" stroke-width="1.35"/>
<text x="56.2" y="799.48" text-anchor="end" font-size="10.0">2000</text>
<path d="M60.7 780.2H63.7" stroke="#8a8a8a" stroke-width="1.35"/>
<text x="56.2" y="784.68" text-anchor="end" font-size="10.0">2500</text>
<path d="M60.7 765.4H63.7" stroke="#8a8a8a" stroke-width="1.35"/>
<text x="56.2" y="769.88" text-anchor="end" font-size="10.0">3000</text>
<path d="M60.7 854.2H517.8" stroke="#8a8a8a" stroke-width="1.35"/>
<path d="M109.11 854.2V930" stroke="#8a8a8a" stroke-width="1.35"/>
<path d="M154.52 854.2V907.5" stroke="#8a8a8a" stroke-width="1.35"/>
<path d="M199.93 854.2V907.5" stroke="#8a8a8a" stroke-width="1.35"/>
<path d="M245.34 854.2V907.5" stroke="#8a8a8a" stroke-width="1.35"/>
<path d="M290.75 854.2V930" stroke="#8a8a8a" stroke-width="1.35"/>
<path d="M336.16 854.2V907.5" stroke="#8a8a8a" stroke-width="1.35"/>
<path d="M381.57 854.2V907.5" stroke="#8a8a8a" stroke-width="1.35"/>
<path d="M426.98 854.2V907.5" stroke="#8a8a8a" stroke-width="1.35"/>
<path d="M472.39 854.2V907.5" stroke="#8a8a8a" stroke-width="1.35"/>
<path d="M517.8 854.2V930" stroke="#8a8a8a" stroke-width="1.35"/>
<text transform="translate(89.66 860.2) rotate(-90)" text-anchor="end" font-size="9.4">LCLs</text>
<text transform="translate(135.07 860.2) rotate(-90)" text-anchor="end" font-size="9.4">1&#956;g</text>
<text transform="translate(180.48 860.2) rotate(-90)" text-anchor="end" font-size="9.4">100ng</text>
<text transform="translate(225.89 860.2) rotate(-90)" text-anchor="end" font-size="9.4">10ng</text>
<text transform="translate(271.3 860.2) rotate(-90)" text-anchor="end" font-size="9.4">1ng</text>
<text transform="translate(316.71 860.2) rotate(-90)" text-anchor="end" font-size="9.4">10ng</text>
<text transform="translate(362.12 860.2) rotate(-90)" text-anchor="end" font-size="9.4">1ng</text>
<text transform="translate(407.53 860.2) rotate(-90)" text-anchor="end" font-size="9.4">100pg</text>
<text transform="translate(452.94 860.2) rotate(-90)" text-anchor="end" font-size="9.4">10pg</text>
<text transform="translate(498.35 860.2) rotate(-90)" text-anchor="end" font-size="9.4">No epitope</text>
<text x="199.93" y="923" text-anchor="middle" font-size="9.7">5A11 peptide</text>
<text x="404.27" y="923" text-anchor="middle" font-size="9.7">&#945;CD21-5A11</text>
<text transform="translate(21 809.3) rotate(-90)" text-anchor="middle" font-size="9.5">IFN&#947; (pg/mL)</text>
<g font-weight="bold" font-size="17.6">
<text x="0.1" y="14.1">A</text>
<text x="-0.5" y="207.8">B</text>
<text x="0.2" y="396.3">C</text>
<text x="20.6" y="396.3">i</text>
<text x="21.2" y="571.5" letter-spacing="1.2">ii</text>
<text x="-0.5" y="771.3">D</text>
</g>
<g font-weight="bold" font-size="11" text-anchor="end">
<text x="518.6" y="10.9">EBNA3C- 5H11</text>
<text x="518.8" y="210.9">EBNA3C-3H10</text>
<text x="517.4" y="401.7">EBNA3B- B9</text>
<text x="518.2" y="775.9">EBNA2- 5A11</text>
</g>
<rect x="440.7" y="583.8" width="3.4" height="3.4" fill="#000"/>
<rect x="440.7" y="603.0" width="3.4" height="3.4" fill="#b3b3b3"/>
<g font-weight="bold" font-size="9.8">
<text x="445.0" y="589.3">3B-B9 T cells</text>
<text x="445.4" y="608.5">M1-E5 T cells</text>
</g>
</svg>
</body></html>
